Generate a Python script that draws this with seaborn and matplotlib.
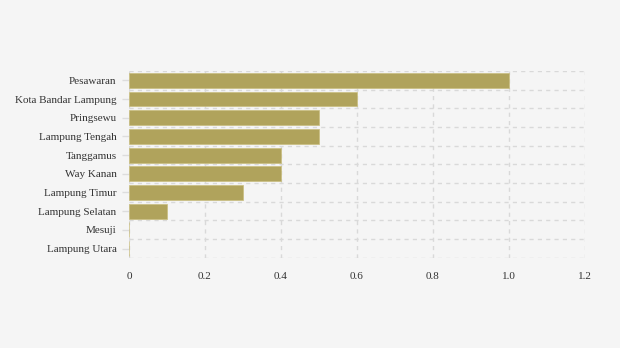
import matplotlib
matplotlib.use("Agg")
import matplotlib.pyplot as plt
from matplotlib.ticker import FixedLocator
import seaborn as sns
import pandas as pd

regions = ["Pesawaran", "Kota Bandar Lampung", "Pringsewu", "Lampung Tengah",
           "Tanggamus", "Way Kanan", "Lampung Timur", "Lampung Selatan",
           "Mesuji", "Lampung Utara"]
values = [1.0, 0.6, 0.5, 0.5, 0.4, 0.4, 0.3, 0.1, 0.0, 0.0]
x_ticks = [0, 0.2, 0.4, 0.6, 0.8, 1.0, 1.2]
x_labels = ["0", "0.2", "0.4", "0.6", "0.8", "1.0", "1.2"]

df = pd.DataFrame({"region": regions, "value": values})

sns.set_theme(style="white")
plt.rcParams["font.family"] = ["Liberation Serif", "DejaVu Serif"]

bg = "#f5f5f5"
fig = plt.figure(figsize=(6.2, 3.48), dpi=100, facecolor=bg)
ax = fig.add_axes([0.208, 0.259, 0.735, 0.537])
ax.set_facecolor(bg)

sns.barplot(data=df, x="value", y="region", orient="h", color="#b0a35c",
            saturation=1, width=0.8, edgecolor="#c9bd7e", linewidth=0.5,
            ax=ax, zorder=3)

ax.set_xlim(0, 1.2)
ax.set_ylim(len(regions) - 0.5, -0.5)
ax.set_xticks(x_ticks)
ax.set_xticklabels(x_labels)
ax.yaxis.set_minor_locator(FixedLocator([i - 0.5 for i in range(len(regions) + 1)]))

grid_kw = dict(color="#d9d9d9", linestyle=(0, (3, 3)), linewidth=1)
ax.grid(axis="x", which="major", **grid_kw)
ax.grid(axis="y", which="minor", **grid_kw)
ax.grid(axis="y", which="major", visible=False)
ax.set_axisbelow(True)

for s in ax.spines.values():
    s.set_visible(False)

ax.tick_params(axis="y", which="major", length=5, width=1, color="#dddddd",
               labelsize=8, labelcolor="#333333", pad=4, left=True)
ax.tick_params(axis="y", which="minor", length=0)
ax.tick_params(axis="x", length=0, labelsize=8, labelcolor="#333333", pad=10)

ax.set_xlabel("")
ax.set_ylabel("")

fig.savefig("out.png", dpi=100, facecolor=bg)
